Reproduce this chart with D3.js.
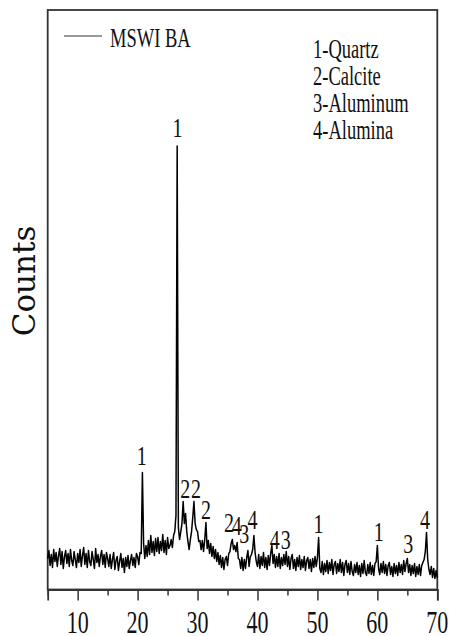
<!DOCTYPE html>
<html lang="en">
<head>
<meta charset="utf-8">
<style type="text/css">
    body { margin: 0; background: #fff; }
    svg { display: block; }
    .frame { fill: none; stroke: #333; stroke-width: 1.8px; }
    .pattern { fill: none; stroke: #000; stroke-width: 1.5px; stroke-linejoin: round; }
    .serif { font-family: "Liberation Serif", "Times New Roman", serif; fill: #111; }
</style>
</head>
<body>
<svg width="449" height="636"></svg>

<script src="https://cdn.jsdelivr.net/npm/d3@7"></script>
<script type="text/javascript">

    // XRD pattern of MSWI bottom ash, 2-theta from 5 to 70 deg, step 0.2 deg
    var startAngle = 5, stepAngle = 0.2;
    var counts = [
        31,39,24,35,22,40,28,37,23,34,41,25,38,21,33,39,26,36,23,40,29,24,38,30,22,  // 5
        36,27,40,23,34,42,25,36,22,39,28,24,38,30,21,41,27,35,23,33,39,25,35,22,37,  // 10
        31,23,35,21,30,37,20,29,33,19,28,36,22,31,17,32,23,34,21,29,35,24,32,22,36,  // 15
        33,25,37,36,117,46,31,44,33,49,35,54,37,48,34,51,38,52,36,48,39,55,37,49,35, // 20
        52,41,44,50,42,54,58,74,444,62,50,58,66,88,66,76,58,48,40,50,58,72,88,66,60, // 25
        58,48,49,40,49,38,50,67,41,49,36,46,33,43,31,40,28,37,25,34,22,32,20,30,33,  // 30
        24,36,38,46,50,40,44,38,47,31,30,21,32,19,30,21,32,39,23,33,35,40,54,37,28,  // 35
        23,35,21,33,24,37,22,32,20,34,24,36,44,26,35,22,33,23,36,21,32,24,35,25,38,  // 40
        23,33,20,31,35,21,30,19,32,23,34,20,30,22,33,19,29,32,21,30,18,31,22,33,23,  // 45
        32,52,21,17,28,15,26,18,29,16,27,19,30,15,25,28,16,26,18,30,17,27,14,25,29,  // 50
        17,26,15,28,18,14,25,17,27,15,24,13,26,16,29,17,14,25,16,27,15,24,14,26,28,  // 55
        44,21,15,26,17,28,16,25,14,24,27,15,23,13,26,16,24,14,27,17,25,15,29,18,26,  // 60
        31,17,25,14,24,16,26,13,23,15,25,14,24,27,30,38,57,30,20,15,23,12,21,11,19,  // 65
        12                                                                           // 70
    ];

    // phase markers above the peaks
    var peakLabels = ["1", "1", "2", "2", "2", "2", "4", "3", "4", "4", "3", "1", "1", "3", "4"];
    var peakAngles = [20.67, 26.67, 27.93, 29.75, 31.4, 35.25, 36.55, 37.8, 39.18, 42.9, 44.7, 50.2, 60.25, 65.15, 67.95];
    var peakCounts = [125, 453, 92, 92, 71, 58, 55, 47, 61, 41, 41, 57, 49, 37, 61];

    var phases = ["1-Quartz", "2-Calcite", "3-Aluminum", "4-Alumina"];
    var seriesName = "MSWI BA";
    var xTicks = [10, 20, 30, 40, 50, 60, 70];

    var svg = d3.select("svg");
    var plotLeft = 47.7, plotRight = 437.3, plotTop = 10, plotBottom = 589.5;

    var x = d3.scaleLinear().domain([5, 70]).range([plotLeft, plotRight]);
    var y = d3.scaleLinear().domain([0, 580]).range([plotBottom, plotTop]);

    var data = counts.map(function (c, i) {
        return { angle: startAngle + i * stepAngle, count: c };
    });

    // frame
    svg.append("rect")
        .attr("class", "frame")
        .attr("x", plotLeft).attr("y", plotTop)
        .attr("width", plotRight - plotLeft).attr("height", plotBottom - plotTop);

    // pattern
    var line = d3.line()
        .x(function (d) { return x(d.angle); })
        .y(function (d) { return y(d.count); });

    svg.append("path")
        .datum(data)
        .attr("class", "pattern")
        .attr("d", line);

    // x axis: major ticks every 10, minor every 5
    var xAxis = svg.append("g")
        .attr("transform", "translate(0," + plotBottom + ")")
        .call(d3.axisBottom(x).ticks(13).tickSize(11).tickFormat(""));
    xAxis.select(".domain").attr("stroke", "#333").attr("stroke-width", 1.8);
    xAxis.selectAll(".tick line")
        .attr("stroke", "#333")
        .attr("stroke-width", 1.5)
        .attr("y2", function (d) { return d % 10 === 0 ? 11 : 6; });

    svg.selectAll(".xlabel")
        .data(xTicks)
        .enter()
        .append("text")
        .attr("class", "xlabel serif")
        .attr("transform", function (d) { return "translate(" + x(d) + ",633) scale(1,1.45)"; })
        .attr("text-anchor", "middle")
        .style("font-size", "22px")
        .text(function (d) { return d; });

    // y label
    svg.append("text")
        .attr("transform", "translate(35,281) rotate(-90)")
        .attr("text-anchor", "middle")
        .style("font-family", "'DejaVu Serif', serif")
        .style("font-size", "31px")
        .style("fill", "#111")
        .text("Counts");

    // peak labels
    svg.selectAll(".peak")
        .data(peakLabels)
        .enter()
        .append("text")
        .attr("class", "peak serif")
        .attr("transform", function (d, i) {
            return "translate(" + x(peakAngles[i]) + "," + y(peakCounts[i]) + ") scale(1,1.35)";
        })
        .attr("text-anchor", "middle")
        .style("font-size", "20px")
        .text(function (d) { return d; });

    // legend
    svg.append("line")
        .attr("x1", 64).attr("x2", 102)
        .attr("y1", 36).attr("y2", 36)
        .attr("stroke", "#333").attr("stroke-width", 1);

    svg.append("text")
        .attr("class", "serif")
        .attr("transform", "translate(110,47) scale(1,1.45)")
        .style("font-size", "18.5px")
        .text(seriesName);

    svg.selectAll(".phase")
        .data(phases)
        .enter()
        .append("text")
        .attr("class", "phase serif")
        .attr("transform", function (d, i) { return "translate(313," + (58 + i * 27) + ") scale(1,1.45)"; })
        .style("font-size", "18.5px")
        .text(function (d) { return d; });

</script>
</body>
</html>
